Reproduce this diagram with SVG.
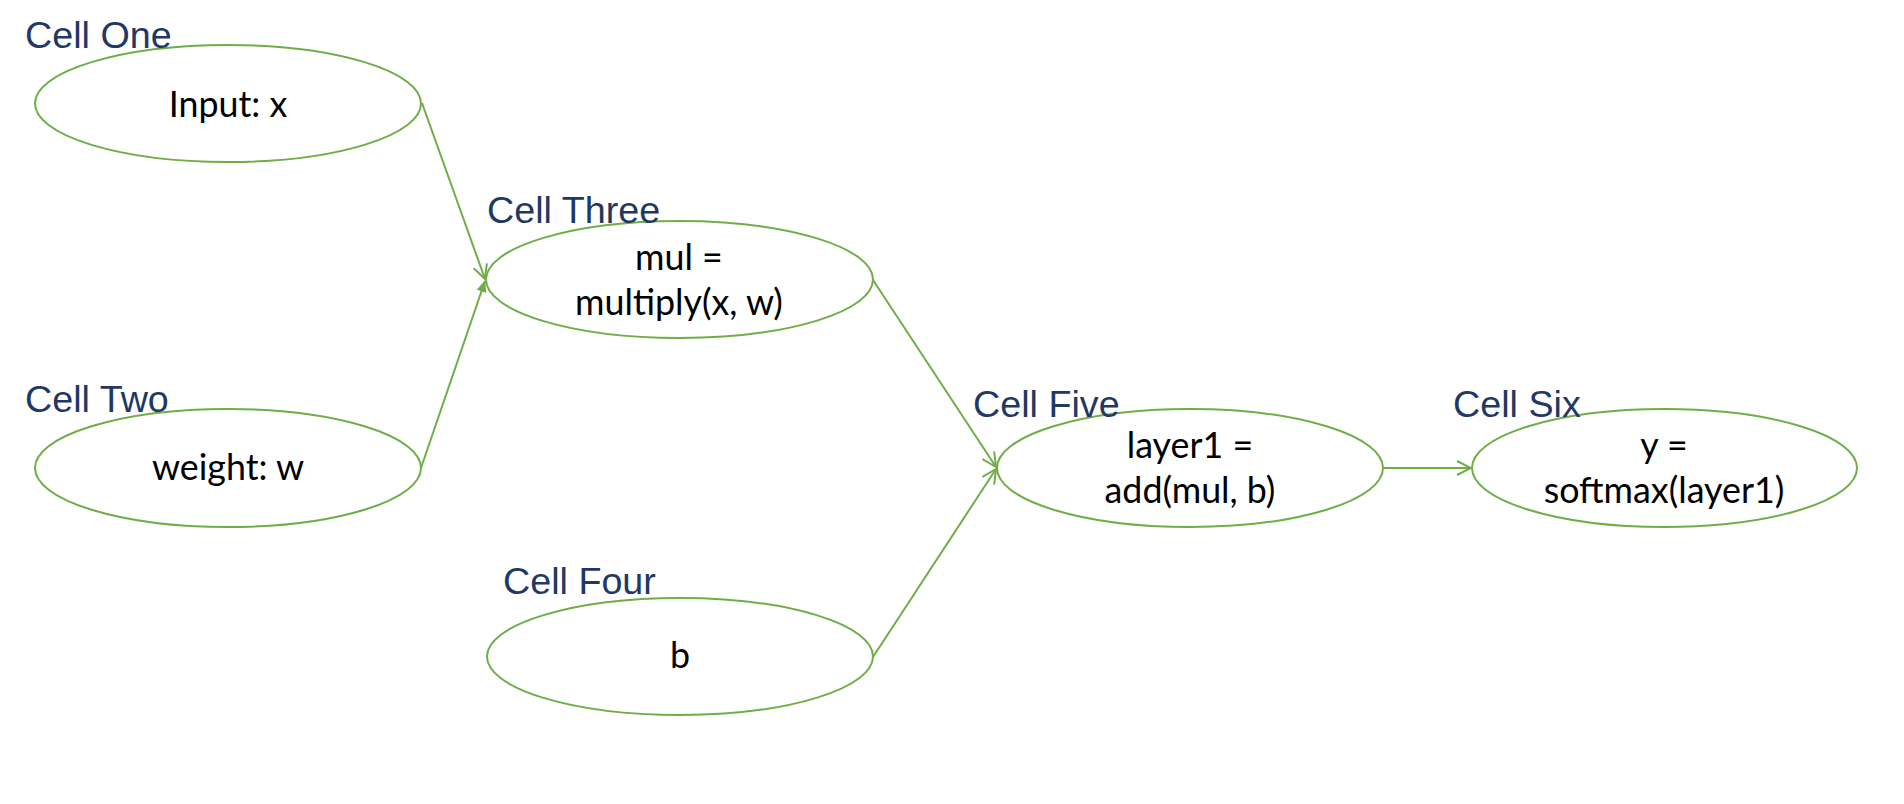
<svg xmlns="http://www.w3.org/2000/svg" width="1904" height="804" viewBox="0 0 1904 804">
<style>
.node ellipse{fill:#fff;stroke:#70AD47;stroke-width:2}
.lbl{font-family:"Liberation Sans",Arial,sans-serif;font-size:37.7px;fill:#1F3864}
.txt{font-family:Lato,"Open Sans",sans-serif;font-size:35.8px;fill:#000;text-anchor:middle}
.edge{stroke:#70AD47;stroke-width:2;fill:none}
</style>
<defs>
<marker id="open" viewBox="0 0 16 16" refX="15" refY="8" markerWidth="16" markerHeight="16" markerUnits="userSpaceOnUse" orient="auto">
<path d="M1,1 L15,8 L1,15" fill="none" stroke="#70AD47" stroke-width="2"/>
</marker>
<marker id="filled" viewBox="0 0 12 12" refX="11" refY="6" markerWidth="12" markerHeight="12" markerUnits="userSpaceOnUse" orient="auto">
<path d="M0,1 L12,6 L0,11 Z" fill="#70AD47"/>
</marker>
</defs>
<rect width="1904" height="804" fill="#fff"/>
<g id="connectors">
<line class="edge" x1="422" y1="103" x2="485" y2="279" marker-end="url(#open)"/>
<line class="edge" x1="421" y1="468" x2="485" y2="281" marker-end="url(#filled)"/>
<line class="edge" x1="873" y1="280" x2="996" y2="467" marker-end="url(#open)"/>
<line class="edge" x1="873" y1="657" x2="996" y2="469" marker-end="url(#open)"/>
<line class="edge" x1="1383" y1="468" x2="1471" y2="468" marker-end="url(#open)"/>
</g>
<g id="cell1" class="node">
<ellipse cx="228" cy="103.5" rx="193" ry="58.5"/>
<text class="lbl" x="25" y="48">Cell One</text>
<text class="txt" x="228" y="117">Input: x</text>
</g>
<g id="cell2" class="node">
<ellipse cx="228" cy="468" rx="193" ry="59"/>
<text class="lbl" x="25" y="412">Cell Two</text>
<text class="txt" x="228" y="480">weight: w</text>
</g>
<g id="cell3" class="node">
<ellipse cx="679.5" cy="279.5" rx="193.5" ry="58.5"/>
<text class="lbl" x="487" y="223">Cell Three</text>
<text class="txt" x="679" y="270">mul =</text>
<text class="txt" x="679" y="315">multiply(x, w)</text>
</g>
<g id="cell4" class="node">
<ellipse cx="680" cy="656.5" rx="193" ry="58.5"/>
<text class="lbl" x="503" y="594">Cell Four</text>
<text class="txt" x="680" y="668">b</text>
</g>
<g id="cell5" class="node">
<ellipse cx="1190" cy="468" rx="193" ry="59"/>
<text class="lbl" x="973" y="417">Cell Five</text>
<text class="txt" x="1190" y="458">layer1 =</text>
<text class="txt" x="1190" y="503">add(mul, b)</text>
</g>
<g id="cell6" class="node">
<ellipse cx="1664.5" cy="468" rx="192.5" ry="59"/>
<text class="lbl" x="1453" y="417">Cell Six</text>
<text class="txt" x="1664" y="458">y =</text>
<text class="txt" x="1664" y="503">softmax(layer1)</text>
</g>
</svg>
